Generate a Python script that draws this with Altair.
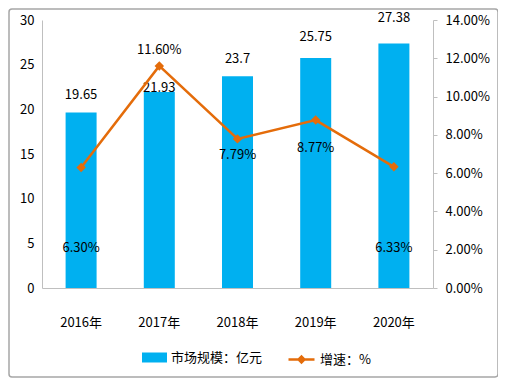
import altair as alt
import pandas as pd

# ---- data ----
years = ["2016年", "2017年", "2018年", "2019年", "2020年"]
market = [19.65, 21.93, 23.7, 25.75, 27.38]          # 市场规模：亿元
growth = [0.0630, 0.1160, 0.0779, 0.0877, 0.0633]     # 增速
market_text = ["19.65", "21.93", "23.7", "25.75", "27.38"]
growth_text = ["6.30%", "11.60%", "7.79%", "8.77%", "6.33%"]
left_ticks = [0, 5, 10, 15, 20, 25, 30]
right_ticks = [0, 0.02, 0.04, 0.06, 0.08, 0.10, 0.12, 0.14]
bar_name = "市场规模：亿元"
line_name = "增速：%"

# label nudges (pixels) as placed in the original
bar_nudge = [-17, -4, -17, -21, -25]
line_nudge = [81, -16, 16, 28, 81]

BLUE = "#00B0F0"
ORANGE = "#E46C0A"
GRAY = "#BFBFBF"
FONT = "Noto Sans CJK SC"

df = pd.DataFrame({
    "year": years,
    "market": market,
    "growth": growth,
    "mtext": market_text,
    "gtext": growth_text,
    "bnudge": bar_nudge,
    "lnudge": line_nudge,
    "bname": [bar_name] * len(years),
    "lname": [line_name] * len(years),
})

x = alt.X(
    "year:N", sort=years,
    scale=alt.Scale(paddingInner=0.6, paddingOuter=0.3),
    axis=alt.Axis(title=None, labelAngle=0, ticks=False, domainColor=GRAY,
                  labelPadding=28, labelFontSize=13),
)

y_left = alt.Y(
    "market:Q", scale=alt.Scale(domain=[0, 30]),
    axis=alt.Axis(title=None, values=left_ticks, ticks=False, grid=False,
                  domainColor=GRAY, labelPadding=8, labelFontSize=13),
)
y_right = alt.Y(
    "growth:Q", scale=alt.Scale(domain=[0, 0.14]),
    axis=alt.Axis(title=None, orient="right", values=right_ticks, format=".2%",
                  ticks=True, tickSize=4, tickColor=GRAY, grid=False,
                  domainColor=GRAY, labelPadding=8, labelFontSize=13),
)

base = alt.Chart(df)

bars = base.mark_bar(size=31).encode(
    x=x, y=y_left,
    color=alt.Color("bname:N", scale=alt.Scale(range=[BLUE]),
                    legend=alt.Legend(title=None, orient="none",
                                      legendX=100, legendY=325,
                                      symbolType="M-1,-0.4H1V0.4H-1Z",
                                      symbolSize=625, symbolStrokeWidth=0,
                                      labelFontSize=13, labelFont=FONT,
                                      labelColor="black")),
)


def text_layers(field_y, field_text, field_nudge, nudges):
    layers = []
    for n in sorted(set(nudges)):
        layers.append(
            base.transform_filter(alt.datum[field_nudge] == n)
            .mark_text(fontSize=13, font=FONT, color="black", dy=n)
            .encode(x=x, y=field_y, text=f"{field_text}:N")
        )
    return layers


bar_texts = text_layers(y_left, "mtext", "bnudge", bar_nudge)

line = base.mark_line(strokeWidth=2.5).encode(
    x=x, y=y_right,
    stroke=alt.Stroke("lname:N", scale=alt.Scale(range=[ORANGE]),
                      legend=alt.Legend(title=None, orient="none",
                                        legendX=245, legendY=325,
                                        symbolType="M-1,0H1M-0.22,0L0,-0.22L0.22,0L0,0.22Z",
                                        symbolSize=676, symbolStrokeWidth=2.5,
                                        symbolFillColor=ORANGE,
                                        labelFontSize=13, labelFont=FONT,
                                        labelColor="black")),
)
points = base.mark_point(shape="diamond", filled=True, size=90, color=ORANGE, opacity=1).encode(
    x=x, y=y_right,
)
line_texts = text_layers(y_right, "gtext", "lnudge", line_nudge)

frame = alt.Chart(pd.DataFrame({"k": [0]})).mark_rect(
    fill=None, stroke="#A6A6A6", strokeWidth=1.5, cornerRadius=3
).encode(x=alt.value(-33), x2=alt.value(456), y=alt.value(-11), y2=alt.value(357))

left_layer = alt.layer(bars, *bar_texts)
right_layer = alt.layer(line, points, *line_texts)

chart = alt.layer(left_layer, right_layer, frame).resolve_scale(
    y="independent", color="independent", stroke="independent"
).properties(
    width=391, height=268,
    autosize=alt.AutoSizeParams(type="none"),
    padding={"left": 34, "top": 12, "right": 65, "bottom": 90},
    background="white",
).configure_view(stroke=None).configure_axis(
    labelFont=FONT, labelColor="black"
).configure_legend(
    labelFont=FONT
)

chart.save("out.html", embed_options={"renderer": "svg", "actions": False})
